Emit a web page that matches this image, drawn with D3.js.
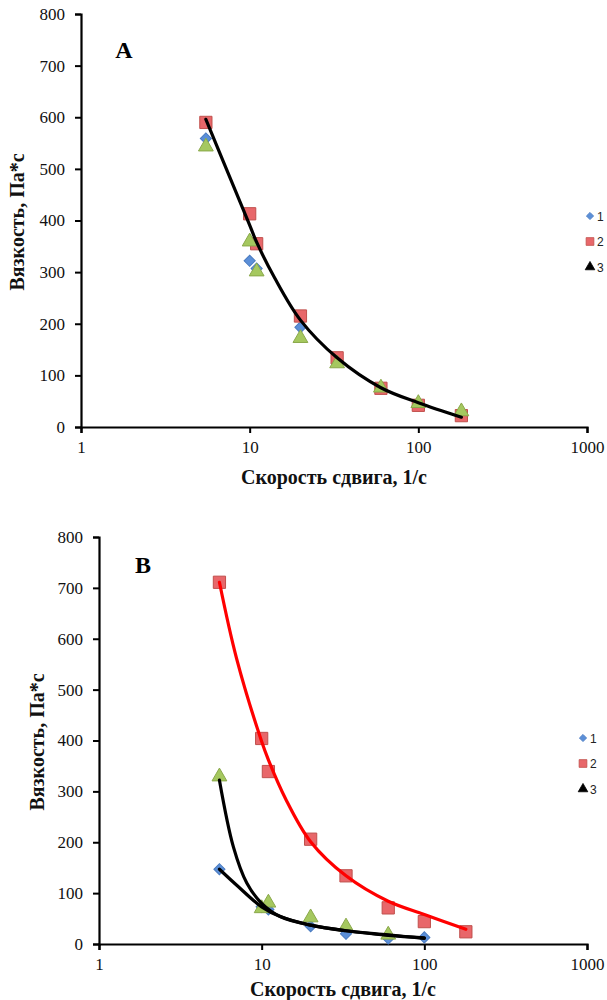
<!DOCTYPE html>
<html><head><meta charset="utf-8">
<script src="https://cdn.jsdelivr.net/npm/d3@7"></script>
<style>body{margin:0;background:#fff}svg{display:block}</style>
</head><body>
<svg id="c" width="607" height="1000"></svg>
<script>
// ---------- DATA ----------
const xTicks = [1, 10, 100, 1000];
const yTicks = [0, 100, 200, 300, 400, 500, 600, 700, 800];
const seriesNames = ["1", "2", "3"];

// Panel A
const aX1 = [5.5, 10, 11, 20, 33, 60, 100, 180];
const aY1 = [559, 322, 307, 193, 128, 75, 42, 25];
const aX2 = [5.5, 10, 11, 20, 33, 60, 100, 180];
const aY2 = [590, 413, 355, 215, 134, 75, 42, 22];
const aX3 = [5.5, 10, 11, 20, 33, 60, 100, 180];
const aY3 = [543, 359, 301, 172, 123, 76, 46, 30];
const aTrendX = [5.5, 7, 10, 11, 14, 20, 33, 60, 100, 180];
const aTrendY = [596, 513, 391, 358, 290, 207, 134, 76, 47, 19];

// Panel B
const bX1 = [5.5, 10, 11, 20, 33, 60, 100];
const bY1 = [147, 73, 68, 35, 20, 11, 13];
const bX2 = [5.5, 10, 11, 20, 33, 60, 100, 180];
const bY2 = [711, 404, 339, 206, 134, 71, 44, 24];
const bX3 = [5.5, 10, 11, 20, 33, 60];
const bY3 = [329, 70, 81, 52, 34, 18];
const bTrend1X = [5.5, 7, 10, 13, 20, 33, 60, 100];
const bTrend1Y = [147, 116, 73, 54, 37, 26, 17, 12];
const bTrend2X = [5.5, 7, 10, 11, 14, 20, 33, 60, 100, 180];
const bTrend2Y = [711, 562, 398, 362, 286, 201, 134, 84, 58, 29];
const bTrend3X = [5.5, 6.7, 8.1, 10, 13, 20, 33, 60, 100];
const bTrend3Y = [322, 191, 120, 80, 54, 37, 26, 18, 11];

// ---------- DRAW ----------
const svg = d3.select("#c");
const serif = "'Liberation Serif','Times New Roman',serif";
const colBlue = "#5b8fd8", colBlueS = "#4a7bc0";
const colRed = "#e8676a", colRedS = "#c0504d";
const colGreen = "#a5c85f", colGreenS = "#8aa84a";

function zip(xs, ys){ return xs.map((x,i)=>({x, y: ys[i]})); }

function panel(cfg){
  const g = svg.append("g");
  const x = d3.scaleLog().domain([1, 1000]).range([cfg.x0, cfg.x1]);
  const y = d3.scaleLinear().domain([0, 800]).range([cfg.y0, cfg.y1]);

  // axes
  const ax = g.append("g").attr("transform", `translate(0,${cfg.y0})`)
    .call(d3.axisBottom(x).tickValues(xTicks).tickFormat(d3.format("d")).tickSizeOuter(0).tickSize(6).tickPadding(8));
  const ay = g.append("g").attr("transform", `translate(${cfg.x0},0)`)
    .call(d3.axisLeft(y).tickValues(yTicks).tickSizeOuter(0).tickSize(6).tickPadding(10));
  [ax, ay].forEach(a=>{
    a.select(".domain").attr("stroke","#000").attr("stroke-width",2.2);
    a.selectAll(".tick line").attr("stroke","#000").attr("stroke-width",2);
    a.selectAll("text").attr("font-family", serif).attr("font-size", 17).attr("fill","#111");
  });

  // markers
  const sym = {
    d: d3.symbol().type(d3.symbolSquare).size(62),
    s: d3.symbol().type(d3.symbolSquare).size(150),
    t: d3.symbol().type(d3.symbolTriangle).size(95)
  };
  const drawPts = (data, s, fill, stroke, rot) => {
    g.append("g").selectAll("path").data(data).join("path")
      .attr("d", s)
      .attr("transform", d=>`translate(${x(d.x)},${y(d.y)}) rotate(${rot})`)
      .attr("fill", fill).attr("stroke", stroke).attr("stroke-width", 1);
  };
  drawPts(zip(cfg.x1s, cfg.y1s), sym.d, colBlue, colBlueS, 45);
  drawPts(zip(cfg.x2s, cfg.y2s), sym.s, colRed, colRedS, 0);
  drawPts(zip(cfg.x3s, cfg.y3s), sym.t, colGreen, colGreenS, 0);

  // trend lines
  const line = d3.line().x(d=>x(d.x)).y(d=>y(d.y)).curve(d3.curveCatmullRom.alpha(0.5));
  cfg.trends.forEach(t=>{
    g.append("path").datum(zip(t.xs, t.ys)).attr("d", line)
      .attr("fill","none").attr("stroke", t.color).attr("stroke-width", 3.2)
      .attr("stroke-linecap","round").attr("stroke-linejoin","round");
  });

  // panel letter
  g.append("text").attr("x", cfg.lx).attr("y", cfg.ly).attr("text-anchor","middle")
    .attr("font-family", serif).attr("font-weight","bold").attr("font-size", 24).text(cfg.letter);

  // axis titles
  g.append("text").attr("x", cfg.xtX).attr("y", cfg.xtY).attr("text-anchor","middle")
    .attr("font-family", serif).attr("font-weight","bold").attr("font-size", 20)
    .attr("fill","#111").text("Скорость сдвига, 1/с");
  g.append("text").attr("transform", `translate(${cfg.ytX},${cfg.ytY}) rotate(-90)`)
    .attr("text-anchor","middle").attr("font-family", serif).attr("font-weight","bold")
    .attr("font-size", 20).attr("fill","#111").text("Вязкость, Па*с");

  // legend
  const lg = g.append("g").attr("transform", `translate(${cfg.legX},${cfg.legY})`);
  const lsym = [
    {s: d3.symbol().type(d3.symbolSquare).size(26)(), f: colBlue, st: colBlueS, r: 45},
    {s: d3.symbol().type(d3.symbolSquare).size(60)(), f: colRed, st: colRedS, r: 0},
    {s: d3.symbol().type(d3.symbolTriangle).size(40)(), f: "#000", st: "#000", r: 0}
  ];
  seriesNames.forEach((n,i)=>{
    const row = lg.append("g").attr("transform", `translate(0,${i*cfg.legStep})`);
    row.append("path").attr("d", lsym[i].s).attr("transform", `rotate(${lsym[i].r})`)
      .attr("fill", lsym[i].f).attr("stroke", lsym[i].st).attr("stroke-width",0.8);
    row.append("text").attr("x", 7).attr("y", 4.5).attr("font-family","'Liberation Sans',Arial,sans-serif")
      .attr("font-size", 12).attr("fill","#222").text(n);
  });
}

panel({
  x0: 81, x1: 587, y0: 427, y1: 14,
  x1s: aX1, y1s: aY1, x2s: aX2, y2s: aY2, x3s: aX3, y3s: aY3,
  trends: [{xs: aTrendX, ys: aTrendY, color: "#000"}],
  letter: "A", lx: 124, ly: 58,
  xtX: 334, xtY: 484, ytX: 24, ytY: 222,
  legX: 590, legY: 216, legStep: 25.5
});

panel({
  x0: 99, x1: 587, y0: 944, y1: 537,
  x1s: bX1, y1s: bY1, x2s: bX2, y2s: bY2, x3s: bX3, y3s: bY3,
  trends: [
    {xs: bTrend2X, ys: bTrend2Y, color: "#ff0000"},
    {xs: bTrend1X, ys: bTrend1Y, color: "#000"},
    {xs: bTrend3X, ys: bTrend3Y, color: "#000"}
  ],
  letter: "B", lx: 143, ly: 573,
  xtX: 343, xtY: 996, ytX: 44, ytY: 742,
  legX: 583, legY: 738, legStep: 25.5
});
</script>
</body></html>
